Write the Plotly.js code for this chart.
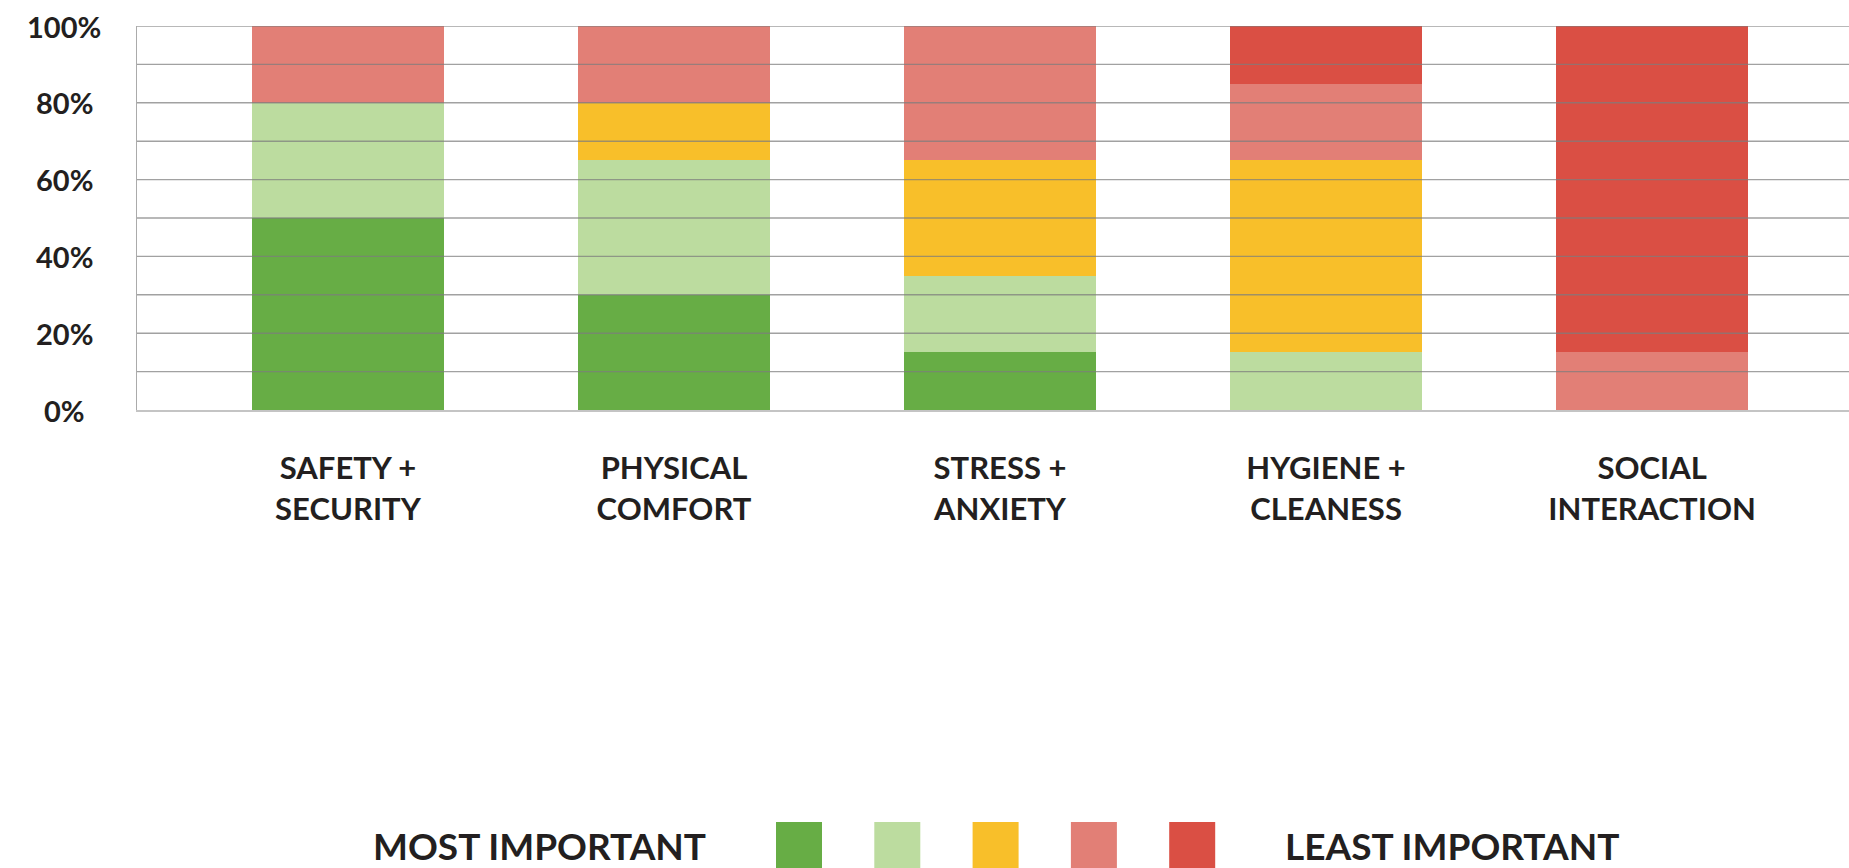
<!DOCTYPE html>
<html>
<head>
<meta charset="utf-8">
<script src="https://cdn.plot.ly/plotly-3.0.1.min.js"></script>
<style>
  html, body { margin: 0; padding: 0; background: #ffffff; }
  #chart { width: 1849px; height: 868px; }
</style>
</head>
<body>
<div id="chart"></div>
<script>
// ---- data ----
const categories = [
  "SAFETY +<br>SECURITY",
  "PHYSICAL<br>COMFORT",
  "STRESS +<br>ANXIETY",
  "HYGIENE +<br>CLEANESS",
  "SOCIAL<br>INTERACTION"
];
const levelNames = ["Rank 1 (most important)", "Rank 2", "Rank 3", "Rank 4", "Rank 5 (least important)"];
const rank1 = [50, 30, 15, 0, 0];
const rank2 = [30, 35, 20, 15, 0];
const rank3 = [0, 15, 30, 50, 0];
const rank4 = [20, 20, 35, 20, 15];
const rank5 = [0, 0, 0, 15, 85];
const levelColors = ["#67ad45", "#bcdc9f", "#f8bf2a", "#e27f76", "#da4f44"];
const yTickValues = [0, 20, 40, 60, 80, 100];
const yTickLabels = ["0%", "20%", "40%", "60%", "80%", "100%"];
const gridValues = [10, 20, 30, 40, 50, 60, 70, 80, 90, 100];
const legendLeftText = "MOST IMPORTANT";
const legendRightText = "LEAST IMPORTANT";

// ---- layout helpers ----
const W = 1849, H = 868;
const mL = 137, mR = 0, mT = 26, mB = 458;
const plotW = W - mL - mR, plotH = H - mT - mB;
const px2xp = px => (px - mL) / plotW;
const py2yp = py => (H - mB - py) / plotH;

const FONT = "Lato, 'Open Sans', sans-serif";
const TEXT = "#231f20";

const series = [rank1, rank2, rank3, rank4, rank5];
const traces = series.map((vals, i) => ({
  type: "bar",
  name: levelNames[i],
  x: [0, 1, 2, 3, 4],
  y: vals,
  marker: { color: levelColors[i], line: { width: 0 } },
  hovertemplate: "%{y}%<extra>" + levelNames[i] + "</extra>"
}));

const shapes = [];
gridValues.forEach(v => {
  shapes.push({
    type: "line", xref: "paper", yref: "y", x0: 0, x1: 1, y0: v, y1: v,
    line: { color: "rgba(125,125,125,0.72)", width: 1.4 }, layer: "above"
  });
});
// legend swatches
levelColors.forEach((c, i) => {
  const x0 = 776 + i * 98.3;
  shapes.push({
    type: "rect", xref: "paper", yref: "paper",
    x0: px2xp(x0), x1: px2xp(x0 + 46), y0: py2yp(822), y1: py2yp(872),
    fillcolor: c, line: { width: 0 }, layer: "above"
  });
});

const annotations = [];
yTickValues.forEach((v, i) => {
  annotations.push({
    xref: "paper", yref: "y", x: px2xp(64), y: v,
    text: yTickLabels[i], showarrow: false, xanchor: "center", yanchor: "middle",
    font: { family: FONT, size: 29, color: TEXT, weight: 700 }
  });
});
annotations.push({
  xref: "paper", yref: "paper", x: px2xp(539), y: py2yp(845),
  text: legendLeftText, showarrow: false, xanchor: "center", yanchor: "middle",
  font: { family: FONT, size: 37, color: TEXT, weight: 700 }
});
annotations.push({
  xref: "paper", yref: "paper", x: px2xp(1452), y: py2yp(845),
  text: legendRightText, showarrow: false, xanchor: "center", yanchor: "middle",
  font: { family: FONT, size: 37, color: TEXT, weight: 700 }
});

const layout = {
  width: W, height: H,
  margin: { l: mL, r: mR, t: mT, b: mB, pad: 0 },
  paper_bgcolor: "#ffffff", plot_bgcolor: "#ffffff",
  barmode: "stack",
  bargap: 0.411,
  showlegend: false,
  xaxis: {
    range: [-0.647, 4.604],
    tickmode: "array",
    tickvals: [0, 1, 2, 3, 4],
    ticktext: categories,
    showgrid: false, zeroline: false,
    showline: true, linecolor: "#c4c4c4", linewidth: 2,
    ticks: "", ticklabelstandoff: 30,
    tickfont: { family: FONT, size: 31, color: TEXT, weight: 700 },
    fixedrange: true
  },
  yaxis: {
    range: [0, 100],
    showgrid: false, zeroline: false,
    showticklabels: false, ticks: "",
    showline: true, linecolor: "#ababab", linewidth: 1.5,
    fixedrange: true
  },
  shapes: shapes,
  annotations: annotations
};

Plotly.newPlot("chart", traces, layout, { displayModeBar: false, staticPlot: true });
</script>
</body>
</html>
